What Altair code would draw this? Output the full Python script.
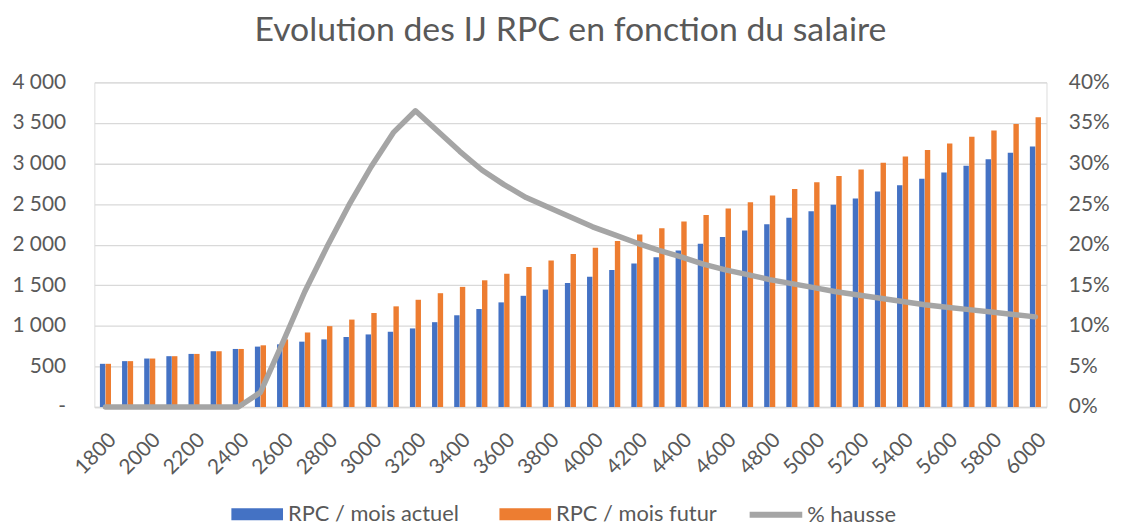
import altair as alt
import pandas as pd

salaires = [1800, 1900, 2000, 2100, 2200, 2300, 2400, 2500, 2600, 2700, 2800,
            2900, 3000, 3100, 3200, 3300, 3400, 3500, 3600, 3700, 3800, 3900,
            4000, 4100, 4200, 4300, 4400, 4500, 4600, 4700, 4800, 4900, 5000,
            5100, 5200, 5300, 5400, 5500, 5600, 5700, 5800, 5900, 6000]

rpc_actuel = [532, 565, 597, 626, 654, 687, 715, 744, 772, 805, 833,
              862, 894, 927, 968, 1045, 1130, 1207, 1289, 1370, 1447, 1528,
              1606, 1687, 1768, 1846, 1927, 2012, 2093, 2175, 2252, 2333, 2411,
              2492, 2569, 2654, 2732, 2813, 2890, 2972, 3053, 3134, 3211]

rpc_futur = [532, 565, 597, 626, 654, 687, 715, 760, 833, 918, 996,
             1077, 1158, 1240, 1321, 1402, 1480, 1561, 1642, 1724, 1805, 1886,
             1963, 2045, 2126, 2203, 2285, 2366, 2447, 2524, 2606, 2687, 2768,
             2846, 2927, 3008, 3085, 3167, 3248, 3329, 3407, 3488, 3569]

hausse_pct = [0, 0, 0, 0, 0, 0, 0, 1.8, 7.9, 14.2, 19.7,
              24.9, 29.6, 33.8, 36.5, 34.0, 31.5, 29.2, 27.4, 25.8, 24.6, 23.4,
              22.2, 21.2, 20.2, 19.3, 18.5, 17.6, 16.9, 16.3, 15.7, 15.2, 14.7,
              14.2, 13.8, 13.4, 13.0, 12.6, 12.3, 12.0, 11.7, 11.4, 11.1]

bar_series = ["RPC / mois actuel", "RPC / mois futur"]
bar_colors = ["#4472C4", "#ED7D31"]
line_series = ["% hausse"]
line_colors = ["#A5A5A5"]
x_label_values = [1800, 2000, 2200, 2400, 2600, 2800, 3000, 3200, 3400, 3600, 3800,
                  4000, 4200, 4400, 4600, 4800, 5000, 5200, 5400, 5600, 5800, 6000]
left_ticks = [0, 500, 1000, 1500, 2000, 2500, 3000, 3500, 4000]
right_ticks = [0, 0.05, 0.10, 0.15, 0.20, 0.25, 0.30, 0.35, 0.40]

bars_df = pd.DataFrame({
    "salaire": salaires * 2,
    "serie": [bar_series[0]] * len(salaires) + [bar_series[1]] * len(salaires),
    "valeur": rpc_actuel + rpc_futur,
})
line_df = pd.DataFrame({
    "salaire": salaires,
    "serie": [line_series[0]] * len(salaires),
    "hausse": [v / 100 for v in hausse_pct],
})

FONT = "Lato"
TXT = "#595959"
GRID = "#D9D9D9"

x_enc = alt.X(
    "salaire:O",
    scale=alt.Scale(paddingInner=0.5, paddingOuter=0.25),
    axis=alt.Axis(
        values=x_label_values, labelAngle=315, title=None, ticks=False,
        domainColor=GRID, domainWidth=1.5, labelColor=TXT, labelFont=FONT,
        labelFontSize=21, labelPadding=22, grid=False,
    ),
)

bars = alt.Chart(bars_df).mark_bar().encode(
    x=x_enc,
    xOffset=alt.XOffset("serie:N", sort=bar_series, scale=alt.Scale(paddingInner=0.05)),
    y=alt.Y(
        "valeur:Q",
        scale=alt.Scale(domain=[0, 4000], nice=False),
        axis=alt.Axis(
            values=left_ticks, title=None, domain=False, ticks=False,
            gridColor=GRID, gridWidth=1.3, labelColor=TXT, labelFont=FONT,
            labelFontSize=21, labelPadding=29,
            labelExpr="datum.value == 0 ? '-\u2007' : replace(format(datum.value, ','), ',', ' ')",
        ),
    ),
    color=alt.Color(
        "serie:N",
        scale=alt.Scale(domain=bar_series, range=bar_colors),
        legend=alt.Legend(
            orient="none", legendX=138, legendY=409, direction="horizontal",
            title=None, padding=0, labelFont=FONT, labelFontSize=22, labelColor=TXT,
            labelLimit=400, symbolType="M-1,-0.23H1V0.23H-1Z", symbolSize=2704,
            labelOffset=5, columnPadding=40, symbolStrokeWidth=0, symbolOpacity=1,
        ),
    ),
)

line = alt.Chart(line_df).mark_line(
    strokeWidth=5.5, strokeJoin="round", strokeCap="round"
).encode(
    x=alt.X("salaire:O"),
    y=alt.Y(
        "hausse:Q",
        scale=alt.Scale(domain=[0, 0.4], nice=False),
        axis=alt.Axis(
            orient="right", values=right_ticks, format=".0%", title=None,
            domain=False, ticks=False, grid=False, labelColor=TXT,
            labelFont=FONT, labelFontSize=21, labelPadding=22,
        ),
    ),
    stroke=alt.Stroke(
        "serie:N",
        scale=alt.Scale(domain=line_series, range=line_colors),
        legend=alt.Legend(
            orient="none", legendX=657, legendY=406, direction="horizontal",
            title=None, padding=0, labelFont=FONT, labelFontSize=22, labelColor=TXT,
            labelLimit=400, symbolType="stroke", symbolSize=2809, symbolStrokeWidth=6,
            labelOffset=2, symbolOpacity=1,
        ),
    ),
)

chart = alt.layer(bars, line).resolve_scale(y="independent").properties(
    width=959, height=327,
    padding={"left": 87, "top": 73, "right": 68, "bottom": 120},
    autosize=alt.AutoSizeParams(type="none"),
    title=alt.TitleParams(
        "Evolution des IJ RPC en fonction du salaire", font=FONT, fontSize=34,
        fontWeight="normal", color=TXT, anchor="middle", offset=24,
    ),
).configure_view(stroke=None).configure(background="white")

chart.save("out.html", embed_options={"renderer": "svg", "actions": False})
